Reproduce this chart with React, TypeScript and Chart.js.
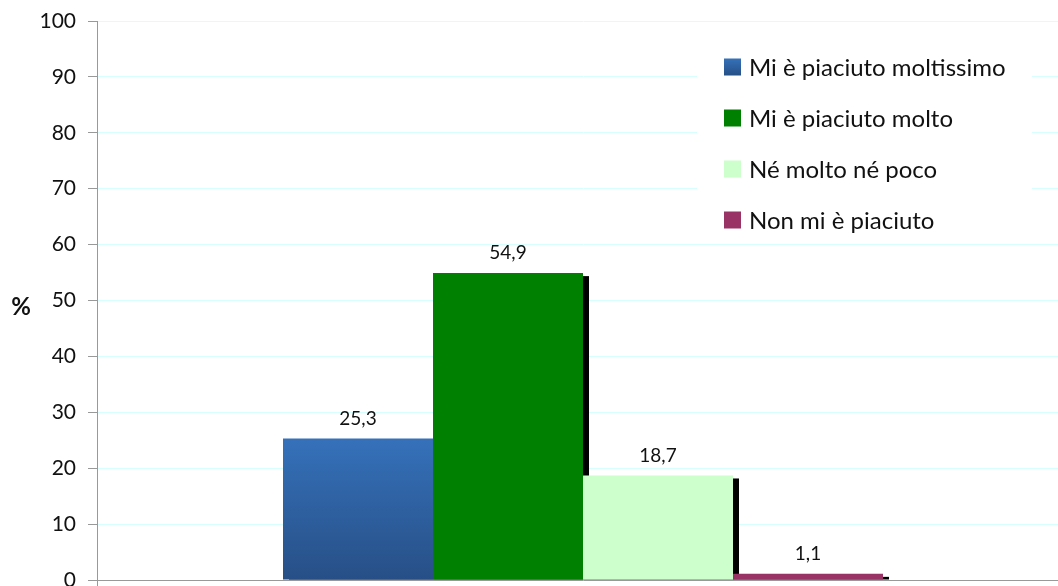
import React, { useEffect, useRef } from "react";
import { Chart, registerables } from "chart.js";

Chart.register(...registerables);

const categories = [""];
const seriesLabels = [
  "Mi è piaciuto moltissimo",
  "Mi è piaciuto molto",
  "Né molto né poco",
  "Non mi è piaciuto",
];
const seriesValues = [[25.3], [54.9], [18.7], [1.1]];
const seriesColors = ["#3370b6", "#008000", "#ccffcc", "#993366"];
const yTicks = [0, 10, 20, 30, 40, 50, 60, 70, 80, 90, 100];

const FONT = "Lato, 'Open Sans', sans-serif";

function blueGradient(chart: any, top: number, bottom: number) {
  const g = chart.ctx.createLinearGradient(0, top, 0, bottom);
  g.addColorStop(0, "#3571ba");
  g.addColorStop(1, "#274f86");
  return g;
}

const shadowPlugin = {
  id: "barShadow",
  beforeDatasetsDraw(chart: any) {
    const ctx = chart.ctx;
    ctx.save();
    ctx.fillStyle = "#000";
    chart.data.datasets.forEach((_: any, i: number) => {
      const meta = chart.getDatasetMeta(i);
      meta.data.forEach((bar: any) => {
        const { x, y, base, width } = bar.getProps(["x", "y", "base", "width"], true);
        const top = y + 3;
        if (base > top) ctx.fillRect(x - width / 2 + 6, top, width, base - top);
      });
    });
    ctx.restore();
  },
};

const labelPlugin = {
  id: "valueLabels",
  afterDatasetsDraw(chart: any) {
    const ctx = chart.ctx;
    ctx.save();
    ctx.font = `19px ${FONT}`;
    ctx.fillStyle = "#111";
    ctx.textAlign = "center";
    ctx.textBaseline = "middle";
    chart.data.datasets.forEach((ds: any, i: number) => {
      const meta = chart.getDatasetMeta(i);
      meta.data.forEach((bar: any, j: number) => {
        const v = ds.data[j];
        ctx.fillText(String(v).replace(".", ","), bar.x, bar.y - 20);
      });
    });
    ctx.restore();
  },
};

const legendPlugin = {
  id: "customLegend",
  afterDraw(chart: any) {
    const ctx = chart.ctx;
    ctx.save();
    ctx.fillStyle = "#fff";
    ctx.fillRect(697, 46, 335, 194);
    ctx.font = `24px ${FONT}`;
    ctx.textBaseline = "middle";
    ctx.textAlign = "left";
    chart.data.datasets.forEach((ds: any, i: number) => {
      const cy = 67 + i * 51;
      if (i === 0) {
        ctx.fillStyle = blueGradient(chart, cy - 8.5, cy + 8.5);
      } else {
        ctx.fillStyle = seriesColors[i];
      }
      ctx.fillRect(724, cy - 8.5, 17, 17);
      ctx.fillStyle = "#111";
      ctx.fillText(ds.label, 749, cy + 1);
    });
    ctx.restore();
  },
};

const titlePlugin = {
  id: "yTitle",
  afterDraw(chart: any) {
    const ctx = chart.ctx;
    ctx.save();
    ctx.font = `bold 24px ${FONT}`;
    ctx.fillStyle = "#111";
    ctx.textAlign = "center";
    ctx.textBaseline = "middle";
    ctx.fillText("%", 21, 307);
    ctx.restore();
  },
};

export default function App() {
  const ref = useRef<HTMLCanvasElement>(null);
  useEffect(() => {
    if (!ref.current) return;
    const chart = new Chart(ref.current, {
      type: "bar",
      data: {
        labels: categories,
        datasets: seriesLabels.map((label, i) => ({
          label,
          data: seriesValues[i],
          backgroundColor:
            i === 0
              ? (c: any) => {
                  const ch = c.chart;
                  if (!ch.chartArea) return seriesColors[0];
                  const ys = ch.scales.y;
                  return blueGradient(ch, ys.getPixelForValue(seriesValues[0][0]), ys.getPixelForValue(0));
                }
              : seriesColors[i],
          borderWidth: 0,
          categoryPercentage: 600 / 972,
          barPercentage: 1,
        })),
      },
      options: {
        animation: false,
        responsive: true,
        maintainAspectRatio: false,
        layout: { padding: { top: 21, left: 0, right: 0, bottom: 0 } },
        plugins: {
          legend: { display: false },
          tooltip: { enabled: false },
        },
        scales: {
          x: {
            ticks: { display: false },
            grid: { display: true, drawOnChartArea: false, drawTicks: true, tickLength: 6, color: "#999" },
            border: { display: true, color: "#999", width: 1 },
            afterFit: (s: any) => {
              s.height = 6;
              s.paddingLeft = 0;
              s.paddingRight = 0;
              s.paddingTop = 0;
              s.paddingBottom = 0;
            },
          },
          y: {
            min: 0,
            max: 100,
            afterBuildTicks: (s: any) => {
              s.ticks = yTicks.map((v) => ({ value: v }));
            },
            ticks: {
              padding: 12,
              color: "#111",
              font: { family: FONT, size: 21 },
            },
            grid: { color: "#d8ffff", tickColor: "#999", tickLength: 9, lineWidth: 1 },
            border: { display: true, color: "#999", width: 1 },
            afterFit: (s: any) => {
              s.width = 97;
              s.paddingTop = 0;
              s.paddingBottom = 0;
              s.paddingLeft = 0;
              s.paddingRight = 0;
            },
          },
        },
      },
      plugins: [shadowPlugin, labelPlugin, legendPlugin, titlePlugin],
    });
    return () => chart.destroy();
  }, []);
  return (
    <div style={{ position: "absolute", left: 0, top: 0, width: 1058, height: 586, overflow: "hidden", background: "#fff" }}>
      <div style={{ width: 1069, height: 586, position: "relative" }}>
        <canvas ref={ref} />
      </div>
    </div>
  );
}
